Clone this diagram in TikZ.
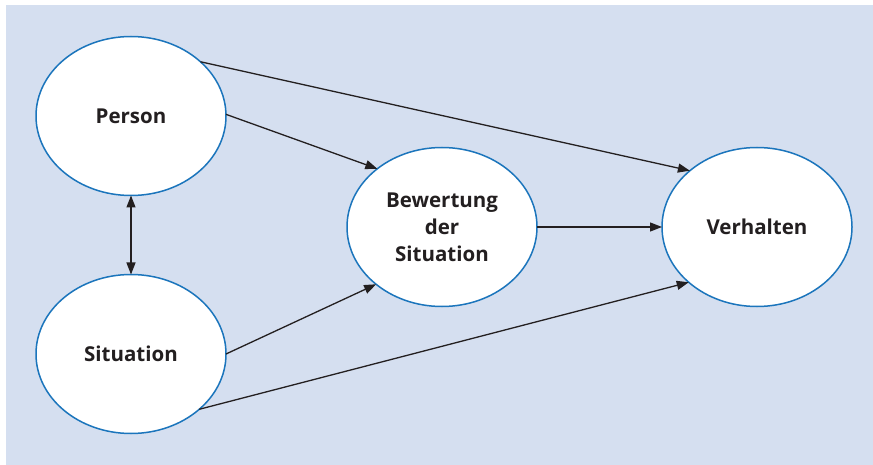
\documentclass[tikz,border=0pt]{standalone}
\usepackage{fontspec}
\setmainfont{Open Sans}
\usetikzlibrary{shapes.geometric,arrows.meta}
\definecolor{bgblue}{HTML}{D5DFF0}
\definecolor{ringblue}{HTML}{1B75BC}
\definecolor{arrowblack}{HTML}{231F20}
\tikzset{
  oval/.style={ellipse, draw=ringblue, line width=1.5pt, fill=white,
    minimum width=190pt, minimum height=159pt, inner sep=0pt, outer sep=0pt,
    font=\bfseries\fontsize{20.5}{27}\selectfont, align=center, text=arrowblack},
  link/.style={draw=arrowblack, line width=1.3pt,
    -{Triangle[length=12pt,width=9pt]}},
  biglink/.style={draw=arrowblack, line width=1.3pt,
    {Triangle[length=12pt,width=9pt]}-{Triangle[length=12pt,width=9pt]}}
}
\begin{document}
\begin{tikzpicture}[x=1pt,y=-1pt]
\useasboundingbox (0,0) rectangle (873,465);
\fill[white] (0,0) rectangle (873,465);
\fill[bgblue] (6,5) rectangle (873,465);
\node[oval] (person) at (131,116) {Person};
\node[oval] (situation) at (131,354) {Situation};
\node[oval] (bewertung) at (442,227) {Bewertung\\der\\Situation};
\node[oval] (verhalten) at (757,227) {Verhalten};
\draw[link] (person.38.6) -- (verhalten.140.6);
\draw[link] (person.1) -- (bewertung.138.6);
\draw[link] (situation.0.6) -- (bewertung.221.8);
\draw[link] (situation.-39) -- (verhalten.219.9);
\draw[link] (bewertung.east) -- (verhalten.west);
\draw[biglink] (person.south) -- (situation.north);
\end{tikzpicture}
\end{document}
